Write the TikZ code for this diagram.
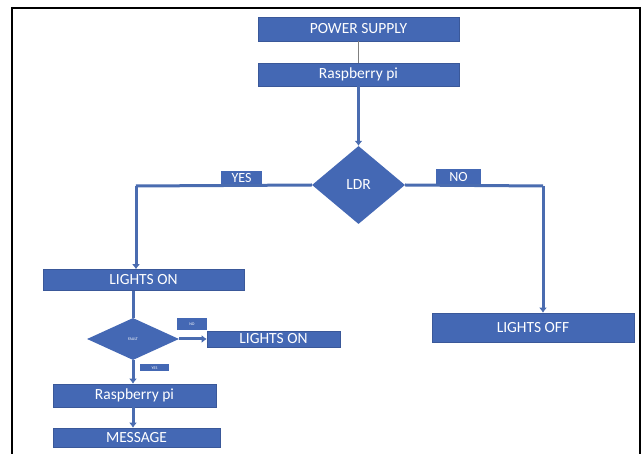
\documentclass[tikz,border=0pt]{standalone}
\usepackage{fontspec}
\setmainfont{Carlito}
\usetikzlibrary{shapes.geometric,arrows.meta}
\definecolor{boxblue}{HTML}{4468B4}
\definecolor{lineblue}{HTML}{4A6CB0}
\begin{document}
\begin{tikzpicture}[x=1pt,y=-1pt,
  bx/.style={draw=boxblue!85!black, line width=0.6pt, fill=boxblue, text=white, rectangle, inner sep=0pt, font=\fontsize{15.5}{16}\selectfont},
  lbl/.style={fill=boxblue, text=white, rectangle, inner sep=0pt, font=\fontsize{14}{14}\selectfont},
  dia/.style={diamond, fill=boxblue, text=white, inner sep=0pt},
  conn/.style={draw=lineblue, line width=3pt},
  arr/.style={conn, -{Latex[length=5pt,width=8pt]}},
]
\useasboundingbox (0,0) rectangle (643,454);
\draw[line width=2pt] (12,8) -- (640,8);
\draw[line width=2pt] (12,7) -- (12,454);
\draw[line width=2pt] (640,7) -- (640,454);

\node[bx, minimum width=201pt, minimum height=24pt] (ps) at (358.5,29) {POWER SUPPLY};
\node[bx, minimum width=201pt, minimum height=23pt] (rp1) at (358.5,74.5) {Raspberry pi};
\node[dia, minimum width=93pt, minimum height=78pt, font=\fontsize{15.5}{16}\selectfont] (ldr) at (358.5,185) {LDR};
\node[lbl, minimum width=41pt, minimum height=15pt] (yes1) at (241.5,178.5) {YES};
\node[lbl, minimum width=45pt, minimum height=16pt] (no1) at (458.5,177) {NO};
\node[bx, minimum width=201pt, minimum height=21pt] (lon1) at (143.5,280) {LIGHTS ON};
\node[bx, minimum width=202pt, minimum height=29pt] (loff) at (533,327.5) {LIGHTS OFF};
\node[dia, minimum width=92pt, minimum height=42pt, font=\fontsize{4}{4}\selectfont] (fault) at (133,339) {FAULT};
\node[lbl, minimum width=30pt, minimum height=12pt, font=\fontsize{4}{4}\selectfont] (no2) at (192,324) {NO};
\node[bx, minimum width=133pt, minimum height=16pt] (lon2) at (273.5,339) {LIGHTS ON};
\node[lbl, minimum width=29pt, minimum height=7pt, font=\fontsize{4}{4}\selectfont] (yes2) at (154.5,368) {YES};
\node[bx, minimum width=163pt, minimum height=23pt] (rp2) at (134.5,395.5) {Raspberry pi};
\node[bx, minimum width=167pt, minimum height=19pt] (msg) at (136.5,437.5) {MESSAGE};

\coordinate (cl) at (136,186);
\coordinate (cr) at (543,186);

\draw[draw=gray, line width=1.5pt] (ps.south) -- (rp1.north);
\draw[arr] (rp1.south) -- (ldr.north);
\draw[conn] (ldr.west) -- (cl);
\draw[arr] (cl) -- (cl |- lon1.north);
\draw[conn] (ldr.east) -- (cr);
\draw[arr] (cr) -- (cr |- loff.north);
\draw[conn] (lon1.south -| fault.north) -- (fault.north);
\draw[arr] (fault.east) -- (lon2.west);
\draw[arr] (fault.south) -- (rp2.north -| fault.south);
\draw[arr] (rp2.south -| fault.south) -- (msg.north -| fault.south);
\end{tikzpicture}
\end{document}
